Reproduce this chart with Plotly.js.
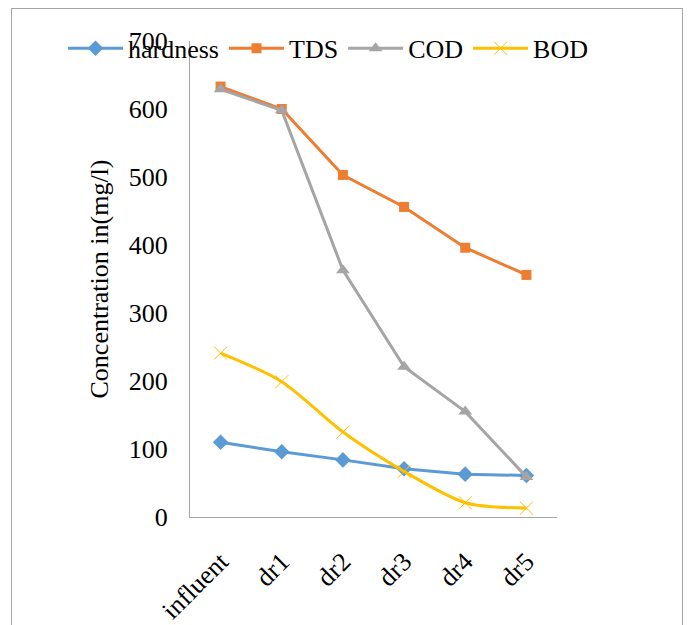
<!DOCTYPE html>
<html>
<head>
<meta charset="utf-8">
<script src="https://cdn.plot.ly/plotly-3.0.1.min.js"></script>
<style>
  html, body { margin: 0; padding: 0; background: #ffffff; overflow: hidden; }
  #chart { width: 689px; height: 625px; position: absolute; left: 0; top: 0; }
  #frame { position: absolute; left: 11px; top: 8px; width: 672px; height: 700px;
           border: 1px solid #a6a6a6; pointer-events: none; box-sizing: border-box; }
</style>
</head>
<body>
<div id="chart"></div>
<div id="frame"></div>
<script>
const categories = ["influent", "dr1", "dr2", "dr3", "dr4", "dr5"];
const hardness = [110, 96, 84, 71, 63, 61];
const tds = [633, 600, 503, 456, 396, 356];
const cod = [629, 598, 363, 221, 155, 59];
const bod = [241, 199, 125, 67, 21, 13];

const serifFamily = "Liberation Serif";

const traces = [
  { name: "hardness", x: categories, y: hardness, type: "scatter", mode: "lines+markers",
    line: { color: "#5B9BD5", width: 3 },
    marker: { symbol: "diamond", size: 12, color: "#5B9BD5" } },
  { name: "TDS", x: categories, y: tds, type: "scatter", mode: "lines+markers",
    line: { color: "#ED7D31", width: 3 },
    marker: { symbol: "square", size: 10, color: "#ED7D31" } },
  { name: "COD", x: categories, y: cod, type: "scatter", mode: "lines+markers",
    line: { color: "#A5A5A5", width: 3 },
    marker: { symbol: "triangle-up", size: 12, color: "#A5A5A5" } },
  { name: "BOD", x: categories, y: bod, type: "scatter", mode: "lines+markers",
    line: { color: "#FFC000", width: 3, shape: "spline", smoothing: 0.8 },
    marker: { symbol: "x-thin-open", size: 13, color: "#FFC000", line: { color: "#FFC000", width: 1 } } }
];

const layout = {
  width: 689, height: 625,
  margin: { l: 190, r: 132, t: 41, b: 108 },
  paper_bgcolor: "#ffffff", plot_bgcolor: "#ffffff",
  font: { family: serifFamily, size: 26, color: "#000000" },
  showlegend: true,
  legend: {
    orientation: "h", x: -0.346, xanchor: "left",
    y: 1.034, yanchor: "top",
    font: { family: serifFamily, size: 26, color: "#000000" },
    bgcolor: "rgba(0,0,0,0)", itemwidth: 55, tracegroupgap: 0
  },
  xaxis: {
    type: "category", showgrid: false, zeroline: false,
    showline: true, linecolor: "#a6a6a6", linewidth: 1,
    ticks: "", tickangle: -45, ticklabelstandoff: 18,
    tickfont: { family: serifFamily, size: 26, color: "#000000" },
    range: [-0.5, 5.5]
  },
  yaxis: {
    range: [0, 700], dtick: 100, showgrid: false, zeroline: false,
    showline: true, linecolor: "#a6a6a6", linewidth: 1,
    ticks: "", ticklabelstandoff: 16,
    tickfont: { family: serifFamily, size: 26, color: "#000000" },
    title: { text: "Concentration in(mg/l)", font: { family: serifFamily, size: 26, color: "#000000" }, standoff: 12 }
  }
};

Plotly.newPlot("chart", traces, layout, { displayModeBar: false, staticPlot: true });
</script>
</body>
</html>
